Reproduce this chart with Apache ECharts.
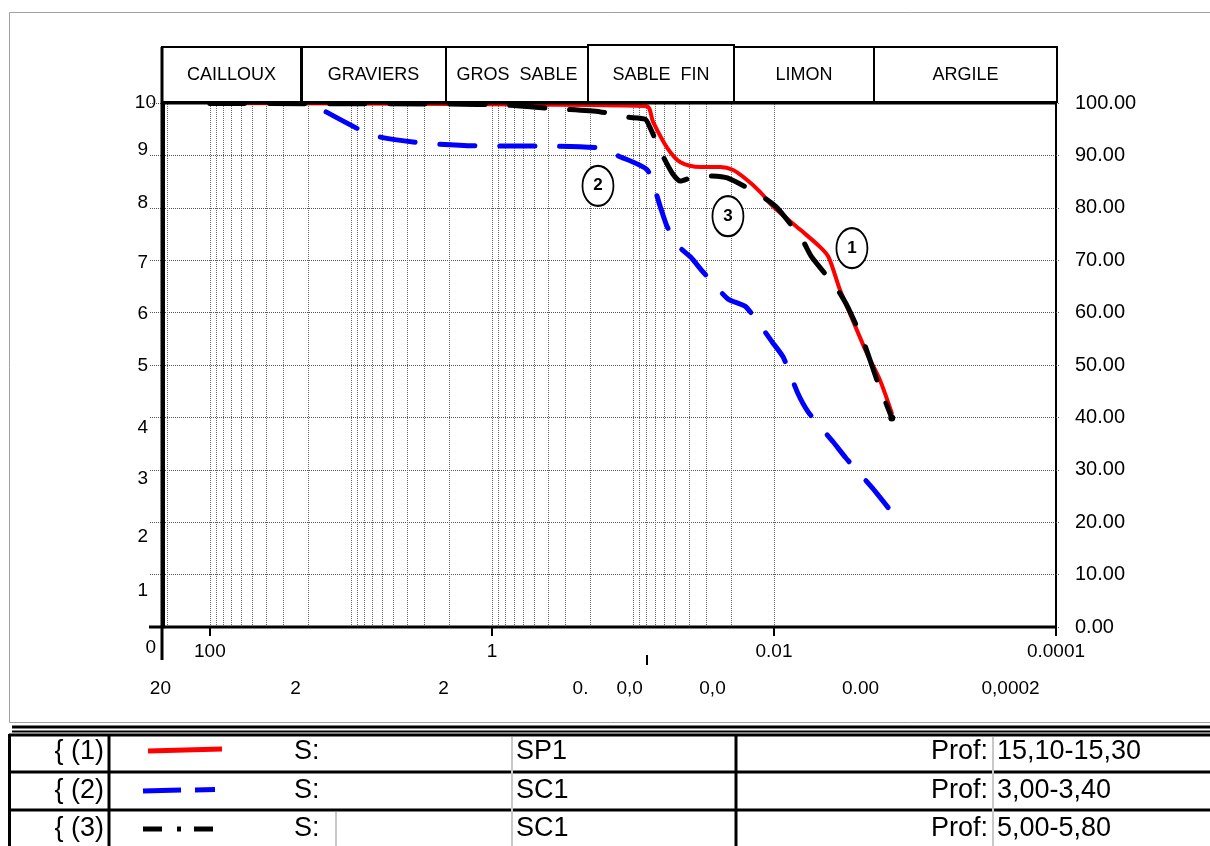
<!DOCTYPE html>
<html><head><meta charset="utf-8">
<script src="https://cdn.jsdelivr.net/npm/echarts@6/dist/echarts.min.js"></script>
<style>html,body{margin:0;padding:0;background:#fff}#c{width:1210px;height:846px}</style>
</head><body><div id="c"></div>
<script>
// ---------------- data ----------------
const diamMin = 0.0001, diamMax = 215;
const xMainTickValues = [100, 1, 0.01, 0.0001];
const xBottomTickValues = [200, 20, 2, 0.2, 0.08, 0.02, 0.002, 0.0002];
const xBottomTickLabels = ['20', '2', '2', '0.', '0,0', '0,0', '0.00', '0,0002'];
const xBottomMarkValues = [0.08];
const yLeftValues = [0, 1, 2, 3, 4, 5, 6, 7, 8, 9, 10];

const classNames = ['CAILLOUX', 'GRAVIERS', 'GROS  SABLE', 'SABLE  FIN', 'LIMON', 'ARGILE'];

// curve (1) SP1 15,10-15,30
const redDiam = [100, 2, 0.2, 0.08, 0.072, 0.057, 0.046, 0.033, 0.024, 0.0195, 0.0155, 0.0125, 0.0101, 0.0065, 0.0047, 0.0041, 0.0034, 0.0029, 0.0022, 0.00177, 0.00146];
const redPass = [100, 99.8, 99.6, 99.4, 96.4, 91.4, 88.7, 87.8, 87.8, 87.2, 85.3, 83.0, 80.2, 75.8, 72.5, 70.6, 64.3, 59.9, 52.3, 47.1, 40.8];
// curve (2) SC1 3,00-3,40
const blueDiam = [15, 8.5, 6.2, 3.2, 1.2, 0.45, 0.17, 0.127, 0.079, 0.064, 0.057, 0.046, 0.039, 0.0317, 0.0212, 0.0158, 0.0103, 0.0086, 0.0068, 0.0057, 0.0038, 0.0031, 0.002, 0.00146];
const bluePass = [98.3, 94.8, 93.5, 92.4, 91.8, 91.8, 91.4, 89.9, 87.2, 80.2, 76.3, 72.3, 70.6, 67.7, 62.6, 61.1, 54.4, 51.5, 44.7, 41.0, 35.3, 32.3, 26.5, 21.9];
// curve (3) SC1 5,00-5,80
const blackDiam = [100, 2, 0.8, 0.4, 0.17, 0.11, 0.0817, 0.0753, 0.0619, 0.0526, 0.0461, 0.0373, 0.0297, 0.0214, 0.0125, 0.0095, 0.0063, 0.0054, 0.0036, 0.0030, 0.0023, 0.00186, 0.00146];
const blackPass = [99.9, 99.8, 99.6, 99.0, 98.3, 97.3, 96.9, 95.2, 90.1, 86.6, 85.1, 85.9, 86.1, 85.7, 82.4, 80.0, 73.9, 70.6, 64.7, 61.1, 54.2, 47.1, 39.9];

const curveLabels = ['1', '2', '3'];
const curveLabelDiam = [0.0028, 0.177, 0.0212];
const curveLabelPass = [72.3, 84.2, 78.4];

const legendIds = ['{ (1)', '{ (2)', '{ (3)'];
const legendSite = ['SP1', 'SC1', 'SC1'];
const legendDepth = ['15,10-15,30', '3,00-3,40', '5,00-5,80'];

// ---------------- styles ----------------
const FONT = '"Liberation Sans", Arial, Helvetica, sans-serif';
const leftLabelShift = {10: 0, 9: -6, 8: -5, 7: 3, 6: 1, 5: 1, 4: 10, 3: 9, 2: 15, 1: 16, 0: 21};
const bottomLabelShift = [7, 13, 6, 10, 17, 19, 12, 3];

const zip = (d, p) => d.map((x, i) => [x, p[i]]);

// vertical log grid lines n*10^k
const gridDiams = [];
for (let k = -4; k <= 2; k++) {
  for (let n = 1; n <= 9; n++) {
    const v = Number((n * Math.pow(10, k)).toPrecision(3));
    if (v > diamMin && v < diamMax) gridDiams.push(v);
  }
}

const leftRich = {};
yLeftValues.forEach(v => {
  const s = leftLabelShift[v];
  const right = (v === 10 || v === 0) ? 0 : 8;
  leftRich['l' + v] = {
    fontSize: 19, fontFamily: FONT, color: '#000',
    padding: [s > 0 ? 2 * s : 0, right, s < 0 ? -2 * s : 0, 0]
  };
});
const bottomRich = {};
bottomLabelShift.forEach((s, i) => {
  bottomRich['b' + i] = {fontSize: 19, fontFamily: FONT, color: '#000', padding: [0, 2 * s, 0, 0]};
});

const blackData = zip(blackDiam, blackPass);
const lastBlack = blackData.pop();
blackData.push({value: lastBlack, symbol: 'circle', symbolSize: 7});

const chart = echarts.init(document.getElementById('c'), null, {renderer: 'canvas'});

// header boxes and table drawn as graphics
const boxX = [162, 301, 446, 588, 734, 874, 1057];
const graphics = [];
graphics.push({type: 'rect', shape: {x: 9.5, y: 12.5, width: 1215, height: 710}, style: {fill: 'none', stroke: '#a0a0a0', lineWidth: 1}, z: 1, silent: true});
classNames.forEach((n, i) => {
  const top = i === 3 ? 45 : 47;
  graphics.push({type: 'rect', shape: {x: boxX[i] + (i === 1 ? 1 : 0), y: top, width: boxX[i + 1] - boxX[i] - (i === 1 ? 1 : 0), height: 102 - top},
    style: {fill: '#fff', stroke: '#000', lineWidth: 2}, z: 10});
  graphics.push({type: 'text', x: (boxX[i] + boxX[i + 1]) / 2, y: 75,
    style: {text: n, fontSize: 18, fontFamily: FONT, fill: '#000', align: 'center', verticalAlign: 'middle'}, z: 11});
});
// axis extensions
graphics.push({type: 'line', shape: {x1: 162, y1: 47, x2: 162, y2: 660}, style: {stroke: '#000', lineWidth: 3}, z: 12});
graphics.push({type: 'line', shape: {x1: 149, y1: 627, x2: 1057, y2: 627}, style: {stroke: '#000', lineWidth: 3}, z: 12});
graphics.push({type: 'line', shape: {x1: 162, y1: 103, x2: 1057, y2: 103}, style: {stroke: '#000', lineWidth: 3}, z: 12});

// table
graphics.push({type: 'line', shape: {x1: 12, y1: 727, x2: 1210, y2: 727}, style: {stroke: '#000', lineWidth: 3}});
graphics.push({type: 'line', shape: {x1: 12, y1: 731.5, x2: 1210, y2: 731.5}, style: {stroke: '#000', lineWidth: 2}});
[735, 772, 810].forEach(y => graphics.push({type: 'line', shape: {x1: 9, y1: y, x2: 1210, y2: y}, style: {stroke: '#000', lineWidth: 3}}));
[9.5, 109, 736].forEach(x => graphics.push({type: 'line', shape: {x1: x, y1: 734, x2: x, y2: 846}, style: {stroke: '#000', lineWidth: 3}}));
[512, 993].forEach(x => graphics.push({type: 'line', shape: {x1: x, y1: 737, x2: x, y2: 846}, style: {stroke: '#c8c8c8', lineWidth: 2}}));
graphics.push({type: 'line', shape: {x1: 336, y1: 812, x2: 336, y2: 846}, style: {stroke: '#c8c8c8', lineWidth: 2}});
const rowY = [752, 791, 829];
const tstyle = (t, x, y, align) => ({type: 'text', x, y, style: {text: t, fontSize: 27, fontFamily: FONT, fill: '#000', align, verticalAlign: 'middle'}});
legendIds.forEach((t, i) => {
  graphics.push(tstyle(t, 104, rowY[i], 'right'));
  graphics.push(tstyle('S:', 294, rowY[i], 'left'));
  graphics.push(tstyle(legendSite[i], 516, rowY[i], 'left'));
  graphics.push(tstyle('Prof:', 988, rowY[i], 'right'));
  graphics.push(tstyle(legendDepth[i], 997, rowY[i], 'left'));
});
graphics.push({type: 'line', shape: {x1: 148, y1: 751, x2: 222, y2: 749}, style: {stroke: '#ff0000', lineWidth: 5}});
graphics.push({type: 'line', shape: {x1: 143, y1: 791, x2: 181, y2: 790}, style: {stroke: '#0000ff', lineWidth: 5}});
graphics.push({type: 'line', shape: {x1: 195, y1: 790, x2: 215, y2: 789.5}, style: {stroke: '#0000ff', lineWidth: 5}});
graphics.push({type: 'line', shape: {x1: 143, y1: 829, x2: 162, y2: 829}, style: {stroke: '#000', lineWidth: 5}});
graphics.push({type: 'line', shape: {x1: 177, y1: 829, x2: 181, y2: 829}, style: {stroke: '#000', lineWidth: 5}});
graphics.push({type: 'line', shape: {x1: 194, y1: 829, x2: 213, y2: 829}, style: {stroke: '#000', lineWidth: 5}});

const logAxisBase = {
  type: 'log', logBase: 10, inverse: true, min: diamMin, max: diamMax, gridIndex: 0, position: 'bottom'
};

const option = {
  animation: false,
  backgroundColor: '#fff',
  textStyle: {fontFamily: FONT},
  grid: {left: 163, right: 154, top: 103, bottom: 219, containLabel: false},
  xAxis: [
    Object.assign({}, logAxisBase, {
      axisLine: {show: true, onZero: false, lineStyle: {color: '#000', width: 2}},
      axisTick: {show: true, customValues: xMainTickValues, length: 9, lineStyle: {color: '#000', width: 2}},
      axisLabel: {show: true, customValues: xMainTickValues, margin: 15, fontSize: 19, fontFamily: FONT, color: '#000',
        formatter: v => String(v)},
      splitLine: {show: false}
    }),
    Object.assign({}, logAxisBase, {
      offset: 28,
      axisLine: {show: true, onZero: false, lineStyle: {color: 'rgba(0,0,0,0)', width: 1}},
      axisTick: {show: true, customValues: xBottomMarkValues, length: 10, lineStyle: {color: '#000', width: 2}},
      axisLabel: {show: true, customValues: xBottomTickValues, margin: 24, fontSize: 19, fontFamily: FONT, color: '#000',
        formatter: (v, i) => {
          let idx = xBottomTickValues.findIndex(t => Math.abs(Math.log10(t) - Math.log10(v)) < 1e-6);
          if (idx < 0) idx = i;
          return '{b' + idx + '|' + xBottomTickLabels[idx] + '}';
        }, rich: bottomRich},
      splitLine: {show: false}
    })
  ],
  yAxis: [
    {type: 'value', min: 0, max: 10, interval: 1, position: 'left',
      axisLine: {show: true, lineStyle: {color: '#000', width: 3}},
      axisTick: {show: true, length: 14, lineStyle: {color: '#555', type: 'dotted', width: 1}},
      axisLabel: {margin: 7, formatter: v => '{l' + v + '|' + v + '}', rich: leftRich},
      splitLine: {show: true, lineStyle: {color: '#555', type: 'dotted', width: 1}}
    },
    {type: 'value', min: 0, max: 100, interval: 10, position: 'right',
      axisLine: {show: true, lineStyle: {color: '#000', width: 2}},
      axisTick: {show: true, length: 4, lineStyle: {color: '#555', type: 'dotted', width: 1}},
      axisLabel: {margin: 19, fontSize: 20, fontFamily: FONT, color: '#000', formatter: v => v.toFixed(2)},
      splitLine: {show: false}
    }
  ],
  series: [
    {type: 'line', name: 'grid', xAxisIndex: 0, yAxisIndex: 1, data: [], silent: true,
      markLine: {silent: true, symbol: ['none', 'none'], z: 1, animation: false,
        label: {show: false},
        lineStyle: {color: '#666', type: 'dotted', width: 1},
        emphasis: {disabled: true},
        data: gridDiams.map(v => ({xAxis: v}))}
    },
    {type: 'line', name: '(1)', xAxisIndex: 0, yAxisIndex: 1, data: zip(redDiam, redPass),
      showSymbol: false, smooth: 0.3, z: 3,
      lineStyle: {color: '#ff0000', width: 4, cap: 'round', join: 'round'},
      markPoint: {
        symbol: 'path://M0,-1A1,1,0,1,1,0,1A1,1,0,1,1,0,-1Z', symbolSize: [31, 40], z: 8,
        itemStyle: {color: '#fff', borderColor: '#000', borderWidth: 2},
        label: {show: true, position: 'inside', color: '#000', fontWeight: 'bold', fontSize: 17, fontFamily: FONT, formatter: p => p.name},
        data: curveLabels.map((t, i) => ({name: t, coord: [curveLabelDiam[i], curveLabelPass[i]]}))
      }
    },
    {type: 'line', name: '(2)', xAxisIndex: 0, yAxisIndex: 1, data: zip(blueDiam, bluePass),
      showSymbol: false, smooth: 0.2, z: 4,
      lineStyle: {color: '#0000ff', width: 5, type: [35, 25], cap: 'round', join: 'round'}
    },
    {type: 'line', name: '(3)', xAxisIndex: 0, yAxisIndex: 1, data: blackData,
      showSymbol: true, symbol: 'none', smooth: 0.2, z: 5,
      itemStyle: {color: '#000'},
      lineStyle: {color: '#000', width: 5, type: [35, 25], cap: 'round', join: 'round'}
    }
  ],
  graphic: graphics
};
chart.setOption(option);
</script>
</body></html>
